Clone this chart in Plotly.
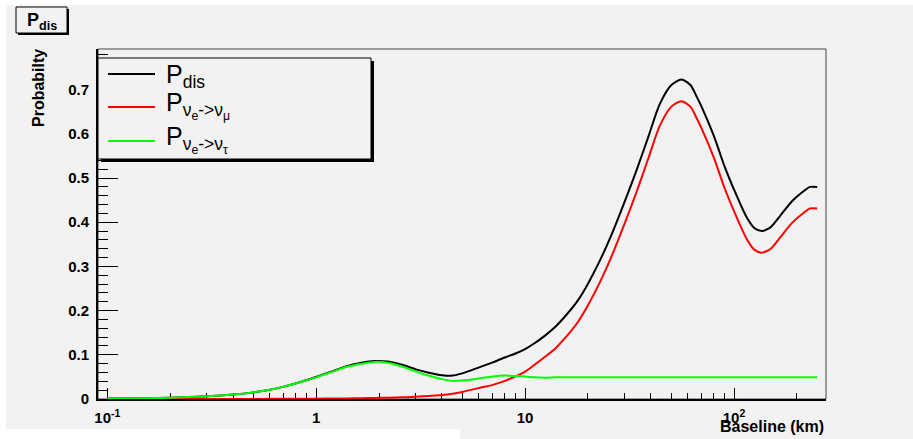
import plotly.graph_objects as go

# ---------------- data ----------------
baseline_km = [0.1, 0.15, 0.2, 0.3, 0.4, 0.5, 0.6, 0.7, 0.85, 1.0, 1.2, 1.4, 1.65, 1.9,
               2.2, 2.6, 3.0, 3.5, 4.0, 4.5, 5.0, 5.9, 7.0, 8.0, 9.0, 10, 11, 12.5, 14,
               16, 18, 20, 23, 26, 30, 34, 39, 44, 50, 56, 62, 66, 70, 80, 90, 100, 115,
               125, 136, 150, 166, 190, 215, 231, 250]

p_dis = [0.001, 0.0015, 0.003, 0.006, 0.010, 0.015, 0.021, 0.028, 0.039, 0.050, 0.063,
         0.074, 0.082, 0.086, 0.085, 0.077, 0.067, 0.059, 0.054, 0.053, 0.058, 0.070,
         0.083, 0.094, 0.103, 0.113, 0.125, 0.144, 0.164, 0.194, 0.225, 0.261, 0.317,
         0.373, 0.447, 0.515, 0.595, 0.666, 0.710, 0.723, 0.710, 0.686, 0.661, 0.596,
         0.527, 0.474, 0.411, 0.387, 0.380, 0.389, 0.414, 0.448, 0.470, 0.480, 0.480]

p_e_mu = [0.0, 0.0, 0.0, 0.0, 0.0001, 0.0002, 0.0003, 0.0004, 0.0006, 0.0008, 0.001,
          0.0013, 0.0018, 0.0025, 0.003, 0.004, 0.005, 0.007, 0.009, 0.012, 0.016,
          0.024, 0.032, 0.041, 0.051, 0.062, 0.076, 0.096, 0.115, 0.145, 0.176, 0.212,
          0.268, 0.324, 0.398, 0.466, 0.546, 0.617, 0.661, 0.674, 0.661, 0.637, 0.612,
          0.547, 0.478, 0.425, 0.362, 0.338, 0.331, 0.340, 0.365, 0.399, 0.421, 0.431,
          0.431]

p_e_tau = [0.001, 0.0015, 0.003, 0.006, 0.010, 0.015, 0.021, 0.028, 0.039, 0.049, 0.062,
           0.073, 0.080, 0.084, 0.082, 0.073, 0.062, 0.052, 0.045, 0.041, 0.042, 0.046,
           0.051, 0.053, 0.052, 0.051, 0.049, 0.048, 0.049, 0.049, 0.049, 0.049, 0.049,
           0.049, 0.049, 0.049, 0.049, 0.049, 0.049, 0.049, 0.049, 0.049, 0.049, 0.049,
           0.049, 0.049, 0.049, 0.049, 0.049, 0.049, 0.049, 0.049, 0.049, 0.049, 0.049]

series_names = ["P<sub>dis</sub>",
                "P<sub>ν<sub>e</sub>->ν<sub>μ</sub></sub>",
                "P<sub>ν<sub>e</sub>->ν<sub>τ</sub></sub>"]
series_colors = ["#000000", "#ff0000", "#00ff00"]

x_major_vals = [0.1, 1, 10, 100]
x_major_text = ["10<sup>-1</sup>", "1", "10", "10<sup>2</sup>"]
x_minor_vals = [0.2, 0.3, 0.4, 0.5, 0.6, 0.7, 0.8, 0.9,
                2, 3, 4, 5, 6, 7, 8, 9,
                20, 30, 40, 50, 60, 70, 80, 90, 200]

# ---------------- layout geometry ----------------
W, H = 913, 439
ML, MR, MT, MB = 98, 87, 49, 40
PW, PH = W - ML - MR, H - MT - MB
FONT = "Liberation Sans, Arial, Helvetica, sans-serif"
BG = "#f2f2f2"


def px(x):
    return (x - ML) / PW


def py(y):
    return (H - MB - y) / PH


fig = go.Figure()
for yvals, name, color in zip([p_dis, p_e_mu, p_e_tau], series_names, series_colors):
    fig.add_trace(go.Scatter(x=baseline_km, y=yvals, mode="lines", name=name,
                             line=dict(color=color, width=2, shape="spline", smoothing=0.7),
                             showlegend=False))

shapes = [
    # canvas
    dict(type="rect", xref="paper", yref="paper", x0=px(6), x1=px(913), y0=py(439), y1=py(5),
         fillcolor=BG, line=dict(width=0), layer="below"),
    dict(type="rect", xref="paper", yref="paper", x0=px(0), x1=px(460), y0=py(439), y1=py(429),
         fillcolor="white", line=dict(width=0), layer="below"),
    # frame
    dict(type="rect", xref="paper", yref="paper", x0=0, x1=1, y0=0, y1=1,
         line=dict(color="#444444", width=1), layer="below"),
    # title box with shadow
    dict(type="rect", xref="paper", yref="paper", x0=px(18), x1=px(69), y0=py(35), y1=py(9),
         fillcolor="black", line=dict(width=0), layer="above"),
    dict(type="rect", xref="paper", yref="paper", x0=px(16), x1=px(67), y0=py(33), y1=py(7),
         fillcolor=BG, line=dict(color="black", width=1), layer="above"),
    # legend box with shadow
    dict(type="rect", xref="paper", yref="paper", x0=px(101), x1=px(374), y0=py(162), y1=py(61),
         fillcolor="black", line=dict(width=0), layer="above"),
    dict(type="rect", xref="paper", yref="paper", x0=px(98), x1=px(371), y0=py(159), y1=py(58),
         fillcolor=BG, line=dict(color="black", width=1), layer="above"),
]

legend_rows = [74, 107, 141]
legend_text_rows = [76, 105, 139]
annotations = []
for row, trow, name, color in zip(legend_rows, legend_text_rows, series_names, series_colors):
    shapes.append(dict(type="line", xref="paper", yref="paper", x0=px(108), x1=px(155),
                       y0=py(row), y1=py(row), line=dict(color=color, width=2), layer="above"))
    annotations.append(dict(xref="paper", yref="paper", x=px(164), y=py(trow),
                            xanchor="left", yanchor="middle", showarrow=False, text=name,
                            font=dict(family=FONT, size=25, color="black")))

annotations += [
    dict(xref="paper", yref="paper", x=px(41.5), y=py(22), xanchor="center", yanchor="middle",
         showarrow=False, text="<b>P<sub>dis</sub></b>",
         font=dict(family=FONT, size=18, color="black")),
    dict(xref="paper", yref="paper", x=px(38), y=py(88), xanchor="center", yanchor="middle",
         showarrow=False, text="<b>Probabilty</b>", textangle=-90,
         font=dict(family=FONT, size=16, color="black")),
    dict(xref="paper", yref="paper", x=px(826), y=py(426), xanchor="right", yanchor="middle",
         showarrow=False, text="<b>Baseline (km)</b>",
         font=dict(family=FONT, size=16, color="black")),
]

fig.update_layout(
    width=W, height=H, autosize=False,
    margin=dict(l=ML, r=MR, t=MT, b=MB, pad=0),
    paper_bgcolor="white", plot_bgcolor=BG,
    shapes=shapes, annotations=annotations,
    font=dict(family=FONT, color="black"),
)

fig.update_xaxes(
    type="log", range=[-1.0445, 2.4404],
    tickmode="array", tickvals=x_major_vals, ticktext=x_major_text,
    ticks="inside", ticklen=11, tickwidth=1, tickcolor="black",
    minor=dict(tickmode="array", tickvals=x_minor_vals, ticks="inside", ticklen=6,
               tickwidth=1, tickcolor="black", showgrid=False),
    showline=True, linecolor="black", linewidth=2, mirror=False,
    showgrid=False, zeroline=False, layer="below traces",
    tickfont=dict(family=FONT, size=15, color="black", weight="bold"),
    ticklabelstandoff=4,
)
fig.update_yaxes(
    range=[0, 0.792], tick0=0, dtick=0.1,
    ticks="inside", ticklen=20, tickwidth=1, tickcolor="black",
    minor=dict(dtick=0.02, ticks="inside", ticklen=10, tickwidth=1, tickcolor="black",
               showgrid=False),
    showline=True, linecolor="black", linewidth=2, mirror=False,
    showgrid=False, zeroline=False, layer="below traces",
    tickfont=dict(family=FONT, size=15, color="black", weight="bold"),
    ticklabelstandoff=4,
)

fig.write_html("out.html", config={"displayModeBar": False},
               post_script="document.body.style.margin='0';")
